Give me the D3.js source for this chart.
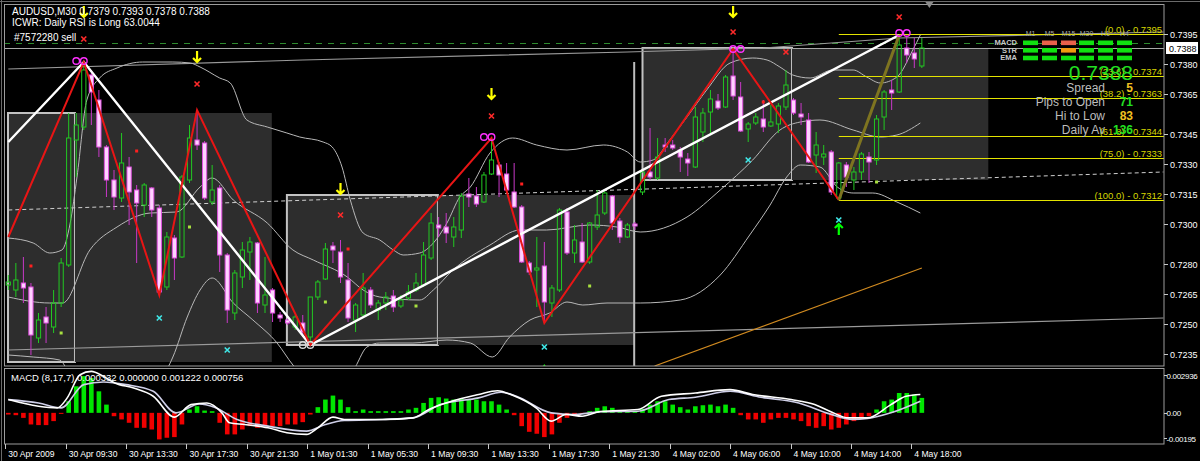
<!DOCTYPE html>
<html><head><meta charset="utf-8">
<script src="https://cdn.jsdelivr.net/npm/d3@7"></script>
<style>body{margin:0;background:#000;overflow:hidden}svg{display:block}text{font-family:"Liberation Sans",Arial,sans-serif}</style>
</head><body><svg id="c" width="1200" height="461"></svg>
<script>
// ---------------- DATA ----------------
const timeLabels = ["30 Apr 2009","30 Apr 09:30","30 Apr 13:30","30 Apr 17:30","30 Apr 21:30","1 May 01:30","1 May 05:30","1 May 09:30","1 May 13:30","1 May 17:30","1 May 21:30","4 May 02:00","4 May 06:00","4 May 10:00","4 May 14:00","4 May 18:00"];
const timeLabelBars = [0,8,16,24,32,40,48,56,64,72,80,88,96,104,112,120];
const priceTicks = [0.7395,0.7380,0.7365,0.7345,0.7330,0.7315,0.7300,0.7280,0.7265,0.7250,0.7235];
const macdTicks = [0.002936,0.00,-0.00195];
const macdTickLabels = ["0.002936","0.00","-0.00195"];

const opens = [0.72695,0.7267,0.72705,0.72685,0.7243,0.72535,0.72485,0.72605,0.72795,0.7342,
0.73485,0.73745,0.7362,0.73385,0.7322,0.7313,0.73285,0.7317,0.73095,0.7318,
0.7308,0.72685,0.7293,0.72835,0.7322,0.7342,0.73405,0.7311,0.7318,0.72845,
0.72555,0.72735,0.7286,0.72905,0.72595,0.7267,0.72545,0.7252,0.72485,0.72505,
0.72435,0.72635,0.72725,0.7289,0.7286,0.7272,0.7252,0.72545,0.7267,0.7257,
0.72605,0.7264,0.7259,0.7263,0.7267,0.72695,0.7283,0.72995,0.72985,0.72935,
0.7297,0.7315,0.7314,0.7311,0.7325,0.73295,0.7325,0.7316,0.73085,0.72805,
0.7277,0.7279,0.72605,0.7267,0.7306,0.72855,0.7291,0.7281,0.72985,0.73055,
0.7314,0.73015,0.72935,0.7300,0.7316,0.7326,0.7323,0.73395,0.73395,0.7337,
0.73325,0.73285,0.7346,0.7356,0.73615,0.73585,0.7374,0.73635,0.73475,0.73505,
0.73525,0.7349,0.7350,0.73585,0.7362,0.7355,0.7352,0.73345,0.73335,0.7336,
0.7313,0.73295,0.7322,0.7326,0.73335,0.7332,0.73535,0.7367,0.7366,0.7388,
0.73855,0.7379];
const highs = [0.72745,0.72805,0.72835,0.72705,0.72555,0.72585,0.7267,0.7283,0.73555,0.73555,
0.7381,0.7377,0.7367,0.73395,0.7327,0.73455,0.73335,0.73195,0.73205,0.73185,
0.73095,0.7296,0.72945,0.73245,0.73495,0.7357,0.73415,0.73295,0.73195,0.72855,
0.7277,0.7291,0.72935,0.7291,0.72835,0.7268,0.7256,0.72535,0.72545,0.72545,
0.72635,0.7272,0.72905,0.7291,0.7292,0.72805,0.72605,0.72755,0.72685,0.7262,
0.7266,0.7267,0.72645,0.72695,0.72755,0.7291,0.73055,0.73035,0.73055,0.73035,
0.73155,0.7323,0.73185,0.7326,0.7343,0.7331,0.73305,0.73305,0.73095,0.72815,
0.72935,0.7291,0.72695,0.7308,0.7308,0.72995,0.73005,0.7301,0.7317,0.7317,
0.73145,0.7303,0.73005,0.7301,0.7327,0.7348,0.7343,0.7343,0.7342,0.73385,
0.73355,0.73585,0.7358,0.7367,0.7365,0.73745,0.73875,0.7371,0.7351,0.73555,
0.7362,0.73595,0.73605,0.7377,0.7363,0.73605,0.73555,0.7346,0.73395,0.7337,
0.7331,0.7331,0.73285,0.7336,0.7336,0.73545,0.7367,0.7372,0.73945,0.73935,
0.7393,0.7393];
const lows = [0.7267,0.72635,0.72605,0.72345,0.72405,0.72405,0.72455,0.72585,0.72785,0.73235,
0.7347,0.73495,0.73335,0.73135,0.7307,0.7311,0.72995,0.72805,0.73035,0.73035,
0.72645,0.7267,0.7272,0.7283,0.73205,0.7337,0.7312,0.73095,0.7276,0.72505,
0.7252,0.7268,0.7272,0.72555,0.72555,0.7251,0.7251,0.72495,0.7247,0.72435,
0.72395,0.7262,0.7272,0.72805,0.72705,0.7251,0.7246,0.72535,0.7258,0.7252,
0.7257,0.7256,0.7258,0.7262,0.7266,0.72685,0.7282,0.72935,0.72905,0.72885,
0.7293,0.73085,0.73085,0.73105,0.73245,0.73135,0.73155,0.7308,0.72805,0.72745,
0.72585,0.72505,0.72535,0.7266,0.72845,0.72805,0.72805,0.728,0.7297,0.73045,
0.7297,0.72905,0.7293,0.7297,0.73145,0.7322,0.7322,0.7336,0.7337,0.7326,
0.7324,0.7328,0.7341,0.73445,0.7357,0.7358,0.7362,0.7346,0.7341,0.73495,
0.7346,0.73485,0.73455,0.7357,0.73545,0.73495,0.73305,0.73255,0.73295,0.73145,
0.7312,0.73185,0.7317,0.7322,0.73205,0.73295,0.7347,0.7357,0.73655,0.73805,
0.7378,0.7378];
const closes = [0.7271,0.7272,0.7268,0.72445,0.7252,0.72505,0.72605,0.72805,0.7343,0.73495,
0.7377,0.7366,0.73385,0.7322,0.73135,0.73305,0.7316,0.73105,0.73195,0.7307,
0.7266,0.72935,0.7283,0.73235,0.7343,0.73395,0.7313,0.7317,0.72845,0.7257,
0.72755,0.7287,0.7291,0.72605,0.72645,0.72555,0.7253,0.72505,0.72535,0.7246,
0.72635,0.7271,0.72875,0.7287,0.72735,0.7253,0.72595,0.7268,0.72595,0.72605,
0.72635,0.72585,0.7262,0.7266,0.72705,0.72845,0.73005,0.7298,0.72955,0.72985,
0.7314,0.73135,0.731,0.73245,0.7332,0.73245,0.7317,0.73085,0.7281,0.7276,
0.7278,0.7261,0.7268,0.7307,0.72855,0.7292,0.7281,0.73005,0.73045,0.73155,
0.73005,0.72935,0.72995,0.7299,0.7326,0.73235,0.73335,0.73385,0.7338,0.73335,
0.73305,0.73535,0.73555,0.73625,0.7358,0.73735,0.7364,0.73465,0.735,0.73535,
0.73485,0.7351,0.7359,0.73695,0.73555,0.73535,0.7331,0.73395,0.7335,0.7316,
0.73305,0.73235,0.7326,0.7335,0.7331,0.73525,0.7366,0.73655,0.73895,0.73845,
0.73825,0.7388];

const macdHist = [-0.00013,-0.00018,-0.00039,-0.0009,-0.00095,-0.00095,-0.00064,-0.00008,0.0009,0.00206,
0.00285,0.0027,0.00167,0.00064,-0.00026,-0.00051,-0.00077,-0.00116,-0.00116,-0.00129,
-0.00206,-0.00193,-0.00188,-0.0009,0.00026,0.00051,0.00018,0.00013,-0.00077,-0.00167,
-0.00167,-0.00129,-0.00103,-0.00116,-0.00103,-0.00103,-0.00103,-0.0009,-0.0009,-0.00072,
-0.00013,0.00044,0.00103,0.00134,0.00103,0.00044,0.00013,0.00026,0.00013,0.00013,
0.00013,0.00013,0.00013,0.00026,0.00039,0.00077,0.00116,0.00121,0.00111,0.00103,
0.00111,0.00103,0.00103,0.0009,0.0009,0.00064,0.00026,-0.00018,-0.00103,-0.00147,
-0.00162,-0.00188,-0.00167,-0.00077,-0.00039,-0.00018,-0.00008,0.00013,0.00039,0.00051,
0.00039,0.00021,0.00013,0.00013,0.00031,0.00064,0.0009,0.0009,0.00064,0.00044,
0.00026,0.00051,0.00059,0.00064,0.00051,0.00064,0.00039,-0.00018,-0.00051,-0.00051,
-0.00077,-0.00051,-0.00039,-0.00039,-0.00051,-0.00064,-0.00103,-0.00116,-0.00103,-0.00129,
-0.00116,-0.0009,-0.00064,-0.00039,-0.00026,0.00026,0.0009,0.00103,0.00154,0.00154,
0.00142,0.00116];
const macdMain = [[0,0.00103],[4,0.00051],[6.5,0.00039],[7.8,0.00116],[9.5,0.00296],[11,0.00322],[12.6,0.00283],[14.1,0.00232],[16.6,0.00193],[19.2,0.00129],[22,-0.00033],[24.2,0.00064],[26.3,0.00077],[28.3,0],[29.3,-0.00077],[31.3,-0.0009],[34.4,-0.00116],[36.9,-0.00154],[39.5,-0.00167],[41,-0.00116],[43,-0.00033],[44.5,-0.00051],[49.6,-0.00051],[53.6,-0.00039],[55.7,0.00026],[58.7,0.0009],[62.3,0.00142],[64.8,0.00172],[66.8,0.00136],[69.9,0.00039],[71.9,-0.00064],[73.9,-0.00013],[76,-0.00026],[78.4,0.0001],[83.4,0.00026],[86.5,0.00129],[91,0.00154],[95.6,0.0018],[98.6,0.00142],[103.7,0.00103],[106.8,0.00064],[108.8,0.00013],[111.3,-0.00039],[113.8,-0.00039],[116.9,0.00064],[118.9,0.00129],[120.8,0.00142]];
const macdSignal = [[0,0.00103],[4,0.00077],[7,0.00039],[10,0.00219],[12.6,0.00239],[15.6,0.00219],[19.2,0.00167],[22.2,0],[25.3,0.00069],[27.3,0.00044],[30.3,-0.00051],[34.4,-0.00103],[39.5,-0.00142],[42,-0.0009],[44.5,-0.00059],[49.6,-0.00051],[53.6,-0.00039],[57.2,0.00064],[62.3,0.00116],[65.3,0.0016],[67.3,0.00129],[71.9,0],[75,-0.00013],[78.4,0.00008],[83.4,0.00013],[87.5,0.00103],[91,0.00121],[95.6,0.00167],[99.7,0.00121],[104.7,0.00077],[108.8,-0.00008],[111.8,-0.00051],[113.8,-0.00044],[116.9,0],[120.8,0.0009]];

const bandUpper = [[0,0.7293],[3.3,0.72905],[5.5,0.72855],[7.1,0.7287],[8.2,0.73005],[9.1,0.73235],[10.4,0.7362],[12.1,0.7373],[14.4,0.7378],[17.8,0.7381],[21.8,0.7381],[24.1,0.73805],[25.4,0.73785],[28,0.7373],[29.4,0.73705],[31.6,0.7352],[34.3,0.73485],[36.9,0.73455],[38.6,0.73435],[41.7,0.7341],[42.9,0.73385],[44.2,0.73285],[45.3,0.7312],[47,0.72955],[49.2,0.7292],[51,0.7287],[52.3,0.72845],[54.5,0.72855],[56.3,0.72905],[58.1,0.73005],[59.8,0.73135],[61.2,0.73185],[63.8,0.73355],[66.8,0.7343],[70,0.73395],[74,0.7337],[78.8,0.73395],[82,0.7336],[83.7,0.7331],[85.4,0.7332],[87.6,0.7342],[89.9,0.73535],[92.5,0.7367],[95.6,0.73805],[98.6,0.7383],[100.5,0.7382],[102.2,0.73785],[103.9,0.73745],[106.2,0.7373],[109.2,0.7377],[111.9,0.7377],[113.7,0.73735],[115.5,0.73705],[117.7,0.73735],[119.8,0.7387],[120.8,0.73945]];
const bandMiddle = [[0,0.72635],[5.5,0.72605],[7.2,0.72605],[10.8,0.7287],[14.4,0.72985],[18.8,0.73055],[22.3,0.7306],[25.4,0.73185],[27,0.7323],[29.8,0.7312],[34.3,0.73005],[37.7,0.7287],[40.4,0.7282],[44.9,0.72735],[47,0.7267],[49.2,0.72635],[54.5,0.7262],[56.3,0.7267],[58.9,0.7277],[63.8,0.72895],[67.8,0.7297],[71.3,0.7297],[77,0.72995],[80.6,0.72985],[83.7,0.7296],[89.9,0.73035],[94.3,0.7317],[98.6,0.7332],[102.2,0.7347],[104.9,0.7351],[107.5,0.7352],[111.9,0.7347],[115.5,0.73435],[117.7,0.73445],[120.8,0.73505]];
const bandLower = [[0,0.72345],[3.3,0.72335],[6.8,0.7232],[8.2,0.72245],[12.1,0.7212],[18.8,0.7217],[21.8,0.72335],[23.7,0.72535],[25.4,0.7267],[27,0.7273],[29.8,0.72605],[32.4,0.7252],[35.6,0.72405],[37.7,0.72295],[41.3,0.7217],[45.7,0.7227],[47.5,0.72385],[49.2,0.72405],[53.6,0.72405],[58.1,0.7242],[61.2,0.72405],[64.1,0.72335],[66.4,0.72435],[69.1,0.7252],[71.7,0.72555],[74,0.7261],[76.1,0.72595],[79.3,0.72605],[83.7,0.72605],[89,0.7262],[94.3,0.72745],[98.2,0.72945],[100.9,0.73095],[103.1,0.73235],[104.9,0.73295],[107.5,0.73285],[109.8,0.73185],[111.9,0.73155],[114.5,0.73155],[117.7,0.7311],[120.8,0.73055]];

const channelTop = [[0,0.73775],[39,0.7382],[82,0.7386],[100,0.7388],[118,0.7393],[153,0.7396]];
const channelBottom = [[0,0.7237],[153,0.7253]];
const dashedLevel = [[0,0.7307],[153,0.7326]];
const orangeLine = [[85.6,0.7229],[121,0.7278]];
const zigzag = [[0,0.72935],[10,0.7381],[20,0.72645],[25,0.7357],[40,0.72395],[64,0.7343],[71,0.72505],[96,0.73875],[110,0.7312]];
const trendWhite = [[0,0.7341],[10,0.7381],[40,0.72395],[118,0.73945]];
const fibTrend = [[110,0.7312],[118,0.73945]];
const fibLevels = ["0.0","23.6","38.2","61.8","75.0","100.0"];
const fibPrices = [0.7395,0.7374,0.7363,0.7344,0.7333,0.7312];
const fibStartBar = 110;

const boxStart = [-0.04,8.83,36.9,56.9,84,103.8];
const boxEnd = [8.83,34.9,56.9,82.9,103.8,129.8];
const boxHigh = [0.73555,0.73555,0.73145,0.73145,0.7388,0.7388];
const boxLow = [0.7231,0.7231,0.72395,0.72395,0.7322,0.7322];
const boxBordered = [true,false,true,false,true,false];
const separatorBar = 82.9, separatorTop = 0.7381;

const orderPrice = 0.73905, bidPrice = 0.7388;

const arrowsDown = [[10,0.7406],[25,0.73835],[44,0.73175],[64,0.7365],[96,0.7406]];
const arrowsUp = [[110,0.72975]];
const triUp = [[71,0.72285]];
const redX = [[10,0.73925],[25,0.7370],[44,0.73045],[64,0.7354],[96,0.7396],[103,0.7386],[118,0.74035]];
const cyanX = [[20,0.7253],[29,0.7237],[71,0.72385],[98,0.7332],[110,0.7302]];
const peakCircles = [[9,0.73815],[10,0.73815],[63,0.73435],[64,0.73435],[96,0.73875],[97,0.73875],[118,0.73955],[119,0.73955]];
const troughCircles = [[39,0.72395],[40,0.72395]];
const redDots = [[3,0.7279],[17,0.73365],[45,0.72875],[68,0.7320],[100,0.7361]];
const limeDots = [[7,0.72455],[24,0.72985],[42,0.7261],[54,0.7259],[77,0.7269],[115,0.7321]];

const tfLabels = ["M1","M5","M15","M30","H1","H4"];
const rowLabels = ["MACD","STR","EMA"];
const rowStates = [["up","dn","dn","up","up","up"],["up","up","mid","up","up","up"],["up","up","up","up","up","up"]];
const infoLabels = ["Spread","Pips to Open","Hi to Low","Daily Av"];
const infoValues = ["5","71","83","136"];
const infoColors = ["#f0c020","#22e022","#f0c020","#22e022"];

// ---------------- DRAW ----------------
const svg = d3.select('#c');
svg.append('rect').attr('width',1200).attr('height',461).attr('fill','#000');
const N = closes.length;
const x = d3.scaleLinear().domain([0,121]).range([8.3, 8.3+7.55*121]);
const y = d3.scaleLinear().domain([0.7235,0.7395]).range([354,34]);
const ym = d3.scaleLinear().domain([-0.00195,0.002936]).range([438,375]);
const line = d3.line().x(d=>x(d[0])).y(d=>y(d[1]));
const lineM = d3.line().x(d=>x(d[0])).y(d=>ym(d[1]));
const crisp = v => Math.round(v)+0.5;

const defs = svg.append('defs');
defs.append('clipPath').attr('id','cm').append('rect').attr('x',4).attr('y',4).attr('width',1160).attr('height',362);
defs.append('clipPath').attr('id','cd').append('rect').attr('x',4).attr('y',368).attr('width',1160).attr('height',76);

const g = svg.append('g').attr('clip-path','url(#cm)');

// boxes
boxStart.forEach((s,k)=>{
  g.append('rect').attr('x',x(s)).attr('y',y(boxHigh[k]))
   .attr('width',x(boxEnd[k])-x(s)).attr('height',y(boxLow[k])-y(boxHigh[k]))
   .attr('fill','#2d2d2d')
   .attr('stroke',boxBordered[k]?'#c2c2c2':'none').attr('stroke-width',2);
});
g.append('line').attr('x1',x(separatorBar)).attr('x2',x(separatorBar)).attr('y1',y(separatorTop)).attr('y2',366)
 .attr('stroke','#bdbdbd').attr('stroke-width',2);

// horizontal lines
g.append('line').attr('x1',4).attr('x2',1164).attr('y1',crisp(y(bidPrice))).attr('y2',crisp(y(bidPrice))).attr('stroke','#a8a8a8').attr('stroke-width',1);
g.append('line').attr('x1',4).attr('x2',1164).attr('y1',crisp(y(orderPrice))).attr('y2',crisp(y(orderPrice))).attr('stroke','#2e8b2e').attr('stroke-width',1).attr('stroke-dasharray','6,6');

g.append('path').attr('d',line(channelTop)).attr('fill','none').attr('stroke','#9a9a9a').attr('stroke-width',1.2);
g.append('path').attr('d',line(channelBottom)).attr('fill','none').attr('stroke','#9a9a9a').attr('stroke-width',1.2);
g.append('path').attr('d',line(dashedLevel)).attr('fill','none').attr('stroke','#cfcfcf').attr('stroke-width',1).attr('stroke-dasharray','4,3');
g.append('path').attr('d',line(orangeLine)).attr('fill','none').attr('stroke','#d08a20').attr('stroke-width',1.2);

// bands
[bandUpper,bandMiddle,bandLower].forEach(b=>{
  g.append('path').attr('d',line.curve(d3.curveMonotoneX)(b)).attr('fill','none').attr('stroke','#b8b8b8').attr('stroke-width',1);
});
line.curve(d3.curveLinear);

// fib lines
fibPrices.forEach((p,k)=>{
  g.append('line').attr('x1',x(fibStartBar)).attr('x2',1164).attr('y1',crisp(y(p))).attr('y2',crisp(y(p))).attr('stroke','#e4e400').attr('stroke-width',1);
});

// candles
const cw = 2.6;
for(let i=0;i<N;i++){
  const cx = x(i), up = closes[i]>=opens[i];
  const top = y(Math.max(opens[i],closes[i])), bot = y(Math.min(opens[i],closes[i]));
  const col = up ? '#22c822' : '#c838c8';
  g.append('line').attr('x1',cx).attr('x2',cx).attr('y1',y(highs[i])).attr('y2',top).attr('stroke',col).attr('stroke-width',1);
  g.append('line').attr('x1',cx).attr('x2',cx).attr('y1',bot).attr('y2',y(lows[i])).attr('stroke',col).attr('stroke-width',1);
  g.append('rect').attr('x',cx-cw+0.5).attr('y',top).attr('width',2*cw-1).attr('height',Math.max(1,bot-top))
   .attr('fill',up?'none':'#ffd2ff').attr('stroke',up?'#22c822':'#e050e0').attr('stroke-width',1);
}

// zigzag & trend
g.append('path').attr('d',line(trendWhite)).attr('fill','none').attr('stroke','#ffffff').attr('stroke-width',2.4);
g.append('path').attr('d',line(zigzag)).attr('fill','none').attr('stroke','#e81515').attr('stroke-width',2);
g.append('path').attr('d',line(fibTrend)).attr('fill','none').attr('stroke','#7e7420').attr('stroke-width',3);

// markers
arrowsDown.forEach(d=>{
  const cx=x(d[0]), cy=y(d[1]);
  g.append('path').attr('d',`M${cx},${cy-6}V${cy+5}M${cx-4},${cy+1}L${cx},${cy+5}L${cx+4},${cy+1}`)
   .attr('fill','none').attr('stroke','#ffff00').attr('stroke-width',2.2);
});
arrowsUp.forEach(d=>{
  const cx=x(d[0]), cy=y(d[1]);
  g.append('path').attr('d',`M${cx},${cy+6}V${cy-5}M${cx-4},${cy-1}L${cx},${cy-5}L${cx+4},${cy-1}`)
   .attr('fill','none').attr('stroke','#00ff00').attr('stroke-width',2.2);
});
triUp.forEach(d=>{
  const cx=x(d[0]), cy=y(d[1]);
  g.append('path').attr('d',`M${cx-5},${cy+4}L${cx},${cy-3}L${cx+5},${cy+4}Z`).attr('fill','#00e000');
});
function cross(arr,col){
  arr.forEach(d=>{
    const cx=x(d[0]), cy=y(d[1]);
    g.append('path').attr('d',`M${cx-2.5},${cy-2.5}L${cx+2.5},${cy+2.5}M${cx+2.5},${cy-2.5}L${cx-2.5},${cy+2.5}`)
     .attr('stroke',col).attr('stroke-width',1.6);
  });
}
cross(redX,'#ff2a2a'); cross(cyanX,'#40e8e8');
peakCircles.forEach(d=>g.append('circle').attr('cx',x(d[0])).attr('cy',y(d[1])).attr('r',3.3).attr('fill','none').attr('stroke','#ff30ff').attr('stroke-width',1.4));
troughCircles.forEach(d=>g.append('circle').attr('cx',x(d[0])).attr('cy',y(d[1])).attr('r',3.3).attr('fill','none').attr('stroke','#d8d8d8').attr('stroke-width',1.4));
redDots.forEach(d=>g.append('rect').attr('x',x(d[0])-1.5).attr('y',y(d[1])-1.5).attr('width',3).attr('height',3).attr('fill','#ff2020'));
limeDots.forEach(d=>g.append('rect').attr('x',x(d[0])-1.5).attr('y',y(d[1])-1.5).attr('width',3).attr('height',3).attr('fill','#a8e040'));

// fib labels (levels below the dashboard)
fibPrices.forEach((p,k)=>{
  if(k===0) return;
  g.append('text').attr('x',1162).attr('y',y(p)-1).attr('text-anchor','end').attr('font-size',9.5)
   .attr('fill','#d6d600').text(`(${fibLevels[k]}) - ${p.toFixed(4)}`);
});

// dashboard
const colX = [1023,1042,1061,1079,1098,1117];
const rowY = [40.5,48,55.7];
const stateCol = {up:'#10e010',dn:'#e8604a',mid:'#f09a10'};
tfLabels.forEach((t,k)=>svg.append('text').attr('x',colX[k]+7.5).attr('y',36).attr('text-anchor','middle').attr('font-size',7).attr('fill','#a8a8a8').text(t));
rowLabels.forEach((t,r)=>{
  svg.append('text').attr('x',1017).attr('y',rowY[r]+4.6).attr('text-anchor','end').attr('font-size',7.5).attr('font-weight','bold').attr('fill','#c8c8c8').text(t);
  rowStates[r].forEach((s,k)=>svg.append('rect').attr('x',colX[k]).attr('y',rowY[r]).attr('width',15).attr('height',4.6).attr('fill',stateCol[s]));
});
svg.append('text').attr('x',1162).attr('y',y(fibPrices[0])-1).attr('text-anchor','end').attr('font-size',9.5).attr('fill','#d6d600').text(`(${fibLevels[0]}) - ${fibPrices[0].toFixed(4)}`);
svg.append('text').attr('x',1133).attr('y',80).attr('text-anchor','end').attr('font-size',21).attr('fill','#22e022').text(closes[N-1].toFixed(4));
infoLabels.forEach((t,k)=>{
  svg.append('text').attr('x',1105).attr('y',92+k*14).attr('text-anchor','end').attr('font-size',12).attr('fill','#bdbdbd').text(t);
  svg.append('text').attr('x',1133).attr('y',92+k*14).attr('text-anchor','end').attr('font-size',12).attr('font-weight','bold').attr('fill',infoColors[k]).text(infoValues[k]);
});

// header texts
svg.append('text').attr('x',12).attr('y',15).attr('font-size',10).attr('fill','#ffffff')
  .text(`AUDUSD,M30  ${opens[N-1].toFixed(4)} ${highs[N-1].toFixed(4)} ${lows[N-1].toFixed(4)} ${closes[N-1].toFixed(4)}`);
svg.append('text').attr('x',12).attr('y',26).attr('font-size',10).attr('fill','#ffffff').text('ICWR: Daily RSI is Long 63.0044');
svg.append('text').attr('x',14).attr('y',41).attr('font-size',10).attr('fill','#ffffff').text('#7572280 sell');

// MACD panel
const gm = svg.append('g').attr('clip-path','url(#cd)');
macdHist.forEach((v,i)=>{
  gm.append('rect').attr('x',x(i)-2.3).attr('width',4.6)
    .attr('y',Math.min(ym(v),ym(0))).attr('height',Math.max(1,Math.abs(ym(v)-ym(0))))
    .attr('fill',v>=0?'#00e600':'#f00000');
});
gm.append('path').attr('d',lineM.curve(d3.curveMonotoneX)(macdSignal)).attr('fill','none').attr('stroke','#cfcfe8').attr('stroke-width',1.6);
gm.append('path').attr('d',lineM.curve(d3.curveMonotoneX)(macdMain)).attr('fill','none').attr('stroke','#ffffff').attr('stroke-width',1.6);
svg.append('text').attr('x',11).attr('y',381).attr('font-size',9.5).attr('fill','#ffffff').text('MACD  (8,17,7) 0.000332 0.000000 0.001222 0.000756');

// frames
svg.append('rect').attr('x',4.5).attr('y',4.5).attr('width',1159.5).attr('height',361.5).attr('fill','none').attr('stroke','#9c9c9c');
svg.append('rect').attr('x',4.5).attr('y',368.5).attr('width',1159.5).attr('height',75.5).attr('fill','none').attr('stroke','#9c9c9c');
svg.append('line').attr('x1',1.5).attr('x2',1.5).attr('y1',0).attr('y2',461).attr('stroke','#6a6a6a');
svg.append('line').attr('x1',0).attr('x2',1200).attr('y1',1.5).attr('y2',1.5).attr('stroke','#6a6a6a');
svg.append('path').attr('d',`M${x(122)-4},2L${x(122)+4},2L${x(122)},8Z`).attr('fill','#8c8c8c');

// price axis
priceTicks.forEach(p=>{
  svg.append('line').attr('x1',1164).attr('x2',1168).attr('y1',crisp(y(p))).attr('y2',crisp(y(p))).attr('stroke','#c8c8c8');
  svg.append('text').attr('x',1170).attr('y',y(p)+3.5).attr('font-size',9).attr('fill','#ffffff').text(p.toFixed(4));
});
svg.append('rect').attr('x',1166).attr('y',y(bidPrice)-6).attr('width',32).attr('height',12).attr('fill','#ffffff');
svg.append('text').attr('x',1169).attr('y',y(bidPrice)+3.5).attr('font-size',9).attr('fill','#000').text(bidPrice.toFixed(4));
macdTicks.forEach((v,k)=>{
  svg.append('line').attr('x1',1164).attr('x2',1167).attr('y1',crisp(ym(v))).attr('y2',crisp(ym(v))).attr('stroke','#c8c8c8');
  svg.append('text').attr('x',1166.5).attr('y',ym(v)+3.5).attr('font-size',8).attr('letter-spacing',-0.3).attr('fill','#ffffff').text(macdTickLabels[k]);
});
// time axis
timeLabelBars.forEach((b,k)=>{
  svg.append('line').attr('x1',crisp(x(b)-3)).attr('x2',crisp(x(b)-3)).attr('y1',444).attr('y2',449).attr('stroke','#c8c8c8');
  svg.append('text').attr('x',x(b)).attr('y',457).attr('font-size',8.6).attr('fill','#ffffff').text(timeLabels[k]);
});
</script></body></html>
